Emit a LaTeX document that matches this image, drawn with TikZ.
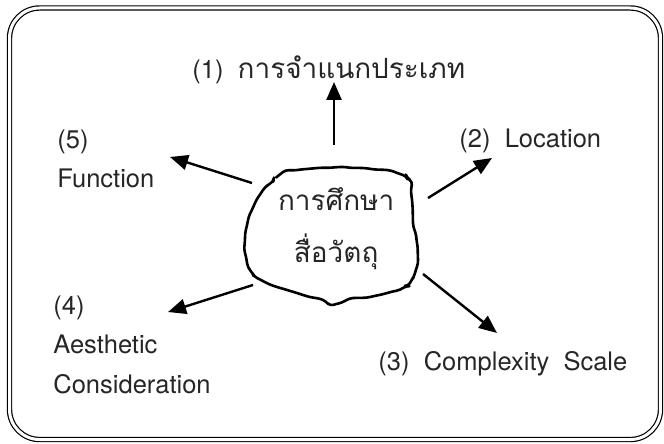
\documentclass[tikz,border=0pt]{standalone}
\usepackage{fontspec}
\setmainfont{TeX Gyre Heros}
\newfontfamily\thaifont[Script=Thai]{Loma}
\usetikzlibrary{arrows.meta,decorations.pathmorphing}
\begin{document}
\begin{tikzpicture}[every node/.style={font=\fontsize{12.8}{20}\selectfont,text=black!85,inner sep=0pt},
  arr/.style={line width=1.2bp,-{Triangle[length=9bp,width=7.5bp]}}]
 \useasboundingbox (0,0) rectangle (11.713,-7.815);
 % frame
 \draw[double,double distance=1.5bp,line width=0.6bp,rounded corners=0.53cm] (0.168,-0.141) rectangle (11.651,-7.753);
 % blob in the middle
 \pgfmathsetseed{11}
 \draw[line width=1.3bp,line join=round,rounded corners=1.8pt,decorate,decoration={random steps,segment length=4pt,amplitude=0.6pt}]
   (4.816,-3.175) -- (4.992,-3.034) -- (5.239,-2.999) -- (5.592,-2.964)
   -- (5.998,-2.946) -- (6.403,-2.964) -- (6.827,-2.999) -- (7.109,-3.087) -- (7.232,-3.175) -- (7.268,-3.528) -- (7.285,-3.934)
   -- (7.356,-4.287) -- (7.374,-4.586) -- (7.321,-4.816) -- (7.232,-4.992) -- (7.109,-5.080) -- (6.827,-5.169) -- (6.527,-5.239)
   -- (6.227,-5.257) -- (5.874,-5.380) -- (5.698,-5.292) -- (5.468,-5.239) -- (5.239,-5.169) -- (4.886,-5.063) -- (4.533,-4.904)
   -- (4.410,-4.763) -- (4.322,-4.463) -- (4.322,-4.181) -- (4.375,-3.881) -- (4.498,-3.581) -- (4.639,-3.352) -- (4.798,-3.210) -- cycle;
 \node[align=center,font=\thaifont\fontsize{14}{26}\selectfont] (study) at (5.93,-4.04) {การศึกษา\\สื่อวัตถุ};
 % labels
 \node[anchor=base] (cls) at (5.80,-1.376) {(1)~ {\thaifont\fontsize{14}{20}\selectfont การจำแนกประเภท}};
 \node[anchor=base west] (loc) at (8.097,-2.593) {(2)~ Location};
 \node[anchor=base west] (cpx) at (6.668,-6.527) {(3)~ Complexity~ Scale};
 \node[anchor=north west,align=left] (aes) at (0.935,-5.204) {(4)\\Aesthetic\\Consideration};
 \node[anchor=north west,align=left] (fun) at (1.005,-2.276) {(5)\\Function};
 % arrow ends
 \coordinate (s1) at (5.892,-2.558); \coordinate (e1) at (5.892,-1.446);
 \coordinate (s2) at (7.550,-3.493); \coordinate (e2) at (8.679,-2.787);
 \coordinate (s3) at (7.462,-4.833); \coordinate (e3) at (8.767,-5.874);
 \coordinate (s4) at (4.463,-5.027); \coordinate (e4) at (2.964,-5.504);
 \coordinate (s5) at (4.445,-3.228); \coordinate (e5) at (2.999,-2.769);
 \draw[arr] (s1) -- (e1);
 \draw[arr] (s2) -- (e2);
 \draw[arr] (s3) -- (e3);
 \draw[arr] (s4) -- (e4);
 \draw[arr] (s5) -- (e5);
\end{tikzpicture}
\end{document}
